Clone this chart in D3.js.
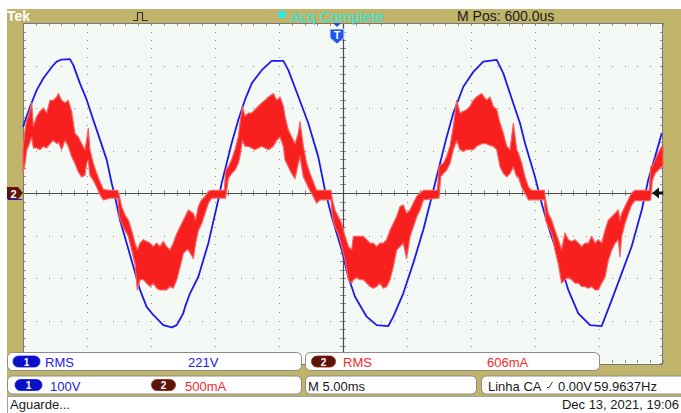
<!DOCTYPE html>
<html>
<head>
<meta charset="utf-8">
<script src="https://cdn.jsdelivr.net/npm/d3@7"></script>
<style>
  body { margin: 0; background: #fff; }
  svg { display: block; }
  text { font-family: "Liberation Sans", Arial, sans-serif; }
</style>
</head>
<body>
<svg id="scope"></svg>
<script>
const W = 681, H = 413;

// CH1 voltage (blue): time in ms from left edge, volts
const voltTime = [0.00,0.55,1.07,1.59,2.37,2.63,3.00,3.67,3.93,4.45,4.98,5.49,6.02,6.54,6.93,7.19,7.58,8.10,8.62,9.14,9.66,10.18,10.96,11.62,12.01,12.52,12.66,13.05,13.70,14.48,15.26,15.52,15.78,16.30,16.82,17.34,17.87,18.65,19.43,20.34,20.73,21.51,22.29,23.07,23.59,24.12,24.90,25.41,25.94,26.85,27.63,28.54,28.93,29.71,30.49,31.27,31.93,32.45,33.10,33.62,34.40,35.18,35.96,37.01,37.52,38.30,38.83,39.22,40.00,40.52,41.04,41.82,42.60,43.38,44.30,45.21,45.99,46.77,47.55,48.34,48.85,49.38,49.90];
const voltValue = [156,203,242,270,301,309,314,315,301,258,219,172,125,78,23,-9,-64,-118,-173,-228,-268,-287,-311,-316,-311,-283,-268,-236,-197,-118,-16,23,54,117,172,219,258,289,311,311,289,227,164,85,7,-56,-134,-197,-244,-291,-311,-313,-291,-236,-165,-87,-9,54,132,188,250,285,309,313,282,211,164,117,38,-24,-79,-150,-228,-283,-311,-313,-252,-189,-126,-40,31,85,140];

// CH2 current (red): noisy trace kept as its upper / lower envelope, mA
const currTime = [0.00,0.16,0.29,0.42,0.68,0.81,1.07,1.33,1.59,1.85,2.11,2.37,2.63,2.76,3.02,3.28,3.54,3.80,4.06,4.32,4.58,4.84,4.97,5.10,5.23,5.49,5.76,6.02,6.28,6.80,7.40,7.53,7.71,7.97,8.23,8.49,8.75,8.93,9.14,9.40,9.66,9.92,10.18,10.44,10.70,10.96,11.22,11.48,11.74,12.01,12.27,12.53,12.79,12.92,13.31,13.49,13.70,13.96,14.22,14.48,14.74,15.73,15.83,16.04,16.30,16.56,16.82,16.95,17.14,17.34,17.60,17.86,18.12,18.39,18.65,18.91,19.17,19.56,19.82,20.08,20.34,20.47,20.73,20.99,21.25,21.51,21.64,21.90,22.16,22.42,22.68,22.94,23.20,24.06,24.17,24.37,24.63,24.90,25.16,25.42,25.68,25.81,26.07,26.33,26.59,26.85,27.11,27.37,27.63,27.89,28.15,28.41,28.67,28.93,29.19,29.45,29.71,29.97,30.24,30.49,30.76,31.02,31.28,32.37,32.50,32.63,32.84,33.10,33.36,33.62,33.88,34.14,34.40,34.66,34.92,35.18,35.44,35.83,36.22,36.48,36.74,37.01,37.27,37.53,37.79,38.05,38.31,38.57,38.70,38.96,39.22,39.48,39.74,40.73,40.83,41.04,41.30,41.56,41.82,42.08,42.34,42.60,42.86,43.13,43.39,43.65,43.91,44.17,44.43,44.69,44.95,45.21,45.47,45.73,45.99,46.25,46.51,46.64,46.77,47.03,47.29,47.55,47.81,48.93,49.04,49.17,49.38,49.63,49.90,50.00];
const currHigh = [510,740,860,900,1060,780,900,960,1000,940,1090,1090,1130,1170,1090,1060,1090,960,700,660,580,510,620,760,510,350,230,130,40,30,30,-40,-160,-260,-320,-440,-590,-670,-590,-550,-570,-590,-630,-590,-630,-570,-630,-670,-590,-480,-400,-320,-240,-200,-240,-320,-160,-80,-40,20,30,30,270,310,390,510,660,820,1020,900,940,940,980,1020,1060,1090,1130,1170,1090,1130,1020,900,740,660,580,700,840,550,350,230,130,30,30,30,-80,-200,-280,-360,-510,-630,-670,-510,-510,-510,-510,-550,-590,-590,-630,-590,-590,-550,-440,-360,-280,-160,-140,-240,-200,-120,-40,0,30,30,310,330,350,430,550,780,1090,940,960,980,1020,1090,1130,1170,1090,1130,1020,980,820,700,550,510,820,510,470,350,190,70,30,30,-80,-240,-320,-440,-550,-670,-470,-550,-570,-550,-590,-630,-590,-590,-510,-590,-550,-590,-440,-320,-280,-240,-200,-320,-240,-160,-80,0,30,30,310,310,390,470,550,560];
const currLow = [230,350,510,550,660,530,530,510,550,530,580,620,580,600,510,620,550,430,350,250,190,210,350,390,210,150,70,-20,-80,-60,-60,-280,-360,-440,-510,-670,-830,-1140,-1020,-1020,-1060,-1100,-1060,-1120,-1140,-1140,-1140,-1100,-1120,-1020,-870,-710,-670,-670,-770,-590,-440,-360,-240,-120,-60,-60,-60,170,230,270,350,430,620,550,550,530,510,530,550,530,510,550,620,660,550,390,310,230,170,350,430,190,110,30,-40,-120,-80,-80,-280,-400,-480,-630,-790,-1020,-1060,-1020,-990,-1020,-1020,-1060,-1100,-1120,-1100,-1060,-1120,-1100,-1020,-870,-670,-630,-590,-770,-510,-400,-280,-200,-80,-60,-60,190,230,270,350,510,620,510,490,510,510,510,550,580,580,560,550,510,310,230,190,230,310,190,190,70,0,-80,-80,-80,-320,-400,-470,-670,-830,-1060,-1020,-990,-1020,-1060,-1060,-1100,-1100,-1120,-1100,-1140,-1140,-1060,-990,-790,-670,-590,-550,-750,-510,-360,-240,-140,-90,-90,-80,150,230,270,310,320];

// readouts
const tekLabel = 'Tek';
const acqStatus = 'Acq Complete';
const horizPos = 'M Pos: 600.0us';
const ch1Rms = ['RMS', '221V'];
const ch2Rms = ['RMS', '606mA'];
const ch1Scale = '100V';
const ch2Scale = '500mA';
const timeScale = 'M 5.00ms';
const trigInfo = ['Linha CA', '0.00V', '59.9637Hz'];
const footerLeft = 'Aguarde...';
const footerRight = 'Dec 13, 2021, 19:06';

const khaki = '#c0b46b';
const blue = '#1a1af0';
const red = '#f81f1f';

const svg = d3.select('#scope').attr('width', W).attr('height', H);

const x = d3.scaleLinear().domain([0, 50]).range([23, 663]);
const yV = d3.scaleLinear().domain([-400, 400]).range([363, 23]);
const yI = d3.scaleLinear().domain([-2000, 2000]).range([363, 23]);

svg.append('rect').attr('width', W).attr('height', H).attr('fill', '#fff');
svg.append('rect').attr('x', 7).attr('y', 9).attr('width', W - 7).attr('height', 387).attr('fill', khaki);

// screen
svg.append('rect').attr('x', 23).attr('y', 23).attr('width', 640).attr('height', 342)
  .attr('fill', '#f5f9f6');

const timeMajor = d3.range(0, 50.001, 5);
const timeMinor = d3.range(0, 50.001, 1);
const voltMajor = d3.range(-400, 400.001, 100);
const voltMinor = d3.range(-400, 400.001, 20);

const grid = svg.append('g').attr('fill', '#8e8e8e');
timeMajor.filter(t => t > 0 && t < 50 && t !== 25).forEach(t => {
  voltMinor.forEach(v => {
    grid.append('rect').attr('x', Math.round(x(t))).attr('y', Math.round(yV(v)))
      .attr('width', 1).attr('height', 1);
  });
});
voltMajor.filter(v => v > -400 && v < 400 && v !== 0).forEach(v => {
  timeMinor.forEach(t => {
    grid.append('rect').attr('x', Math.round(x(t))).attr('y', Math.round(yV(v)))
      .attr('width', 1).attr('height', 1);
  });
});

// edge and centre ticks
const ticks = svg.append('g').attr('stroke', '#8e8e8e').attr('stroke-width', 1);
timeMinor.forEach(t => {
  const px = Math.round(x(t)) + 0.5;
  ticks.append('line').attr('x1', px).attr('x2', px).attr('y1', 23).attr('y2', 26);
  ticks.append('line').attr('x1', px).attr('x2', px).attr('y1', 360).attr('y2', 363);
  ticks.append('line').attr('x1', px).attr('x2', px).attr('y1', yV(0) - 3).attr('y2', yV(0) + 3);
});
voltMinor.forEach(v => {
  const py = Math.round(yV(v)) + 0.5;
  ticks.append('line').attr('x1', 23).attr('x2', 26).attr('y1', py).attr('y2', py);
  ticks.append('line').attr('x1', 660).attr('x2', 663).attr('y1', py).attr('y2', py);
  ticks.append('line').attr('x1', x(25) - 3).attr('x2', x(25) + 3).attr('y1', py).attr('y2', py);
});

svg.append('line').attr('x1', 23).attr('x2', 663).attr('y1', Math.round(yV(0)) + 0.5).attr('y2', Math.round(yV(0)) + 0.5)
  .attr('stroke', '#4c4c4c').attr('stroke-width', 1.2);
svg.append('line').attr('x1', Math.round(x(25)) + 0.5).attr('x2', Math.round(x(25)) + 0.5).attr('y1', 23).attr('y2', 365)
  .attr('stroke', '#4c4c4c').attr('stroke-width', 1.2);

svg.append('rect').attr('x', 23.5).attr('y', 23.5).attr('width', 639).attr('height', 341)
  .attr('fill', 'none').attr('stroke', '#777');

// traces
const voltData = voltTime.map((t, i) => ({ t, v: voltValue[i] }));
const currData = currTime.map((t, i) => ({ t, hi: currHigh[i], lo: currLow[i] }));

svg.append('path').datum(voltData)
  .attr('fill', 'none').attr('stroke', blue).attr('stroke-width', 1.8).attr('stroke-linejoin', 'round')
  .attr('d', d3.line().x(d => x(d.t)).y(d => yV(d.v)));

svg.append('path').datum(currData)
  .attr('fill', red).attr('stroke', '#f86060').attr('stroke-width', 1.2).attr('stroke-linejoin', 'round')
  .attr('d', d3.area().x(d => x(d.t)).y0(d => yI(d.lo)).y1(d => yI(d.hi)));

// top bar
svg.append('text').attr('x', 7).attr('y', 21).attr('fill', '#fff').attr('font-weight', 'bold')
  .attr('font-size', 14).text(tekLabel);
svg.append('path').attr('d', 'M133,20.5H137.5V12.5H142.5V20.5H148')
  .attr('fill', 'none').attr('stroke', '#333').attr('stroke-width', 1.2);
svg.append('rect').attr('x', 278).attr('y', 11).attr('width', 8).attr('height', 7).attr('rx', 2.5)
  .attr('fill', '#30e4dc');
svg.append('text').attr('x', 290).attr('y', 21.5).attr('fill', '#30e4dc').attr('font-size', 15)
  .text(acqStatus);
svg.append('text').attr('x', 457).attr('y', 21).attr('fill', '#1a1a1a').attr('font-size', 14)
  .text(horizPos);

// trigger position marker
svg.append('path').attr('d', 'M333,23 L341,23 L337,27 Z').attr('fill', '#1e4fe0');
svg.append('path').attr('d', 'M330,29 H344 V38 L337,44 L330,38 Z')
  .attr('fill', '#1e55e8').attr('stroke', '#dfe8ff').attr('stroke-width', 1);
svg.append('text').attr('x', 337).attr('y', 39).attr('text-anchor', 'middle').attr('fill', '#fff')
  .attr('font-weight', 'bold').attr('font-size', 11).text('T');

// channel 2 ground marker and trigger level arrow
svg.append('path').attr('d', 'M8,199 H21 L23,200 H8 Z').attr('fill', '#1a1ad0');
svg.append('path').attr('d', 'M7,187 H18 L23,193 L18,199 H7 Z').attr('fill', '#5c1409');
svg.append('text').attr('x', 13.5).attr('y', 197.5).attr('text-anchor', 'middle').attr('fill', '#fff')
  .attr('font-weight', 'bold').attr('font-size', 11).text('2');
svg.append('path').attr('d', 'M652,193 L659,187.5 V191.5 H663 V194.5 H659 V198.5 Z').attr('fill', '#111');

// readout boxes
function box(x0, y0, w, h) {
  svg.append('rect').attr('x', x0 + 0.5).attr('y', y0 + 0.5).attr('width', w).attr('height', h)
    .attr('rx', 5).attr('fill', '#fff').attr('stroke', '#8a8a8a');
}
function badge(cx, cy, w, label, fill) {
  svg.append('rect').attr('x', cx - w / 2).attr('y', cy - 5.5).attr('width', w).attr('height', 11)
    .attr('rx', 5.5).attr('fill', fill).attr('stroke', d3.color(fill).brighter(1.2)).attr('stroke-width', 0.8);
  svg.append('text').attr('x', cx).attr('y', cy + 4).attr('text-anchor', 'middle').attr('fill', '#fff')
    .attr('font-weight', 'bold').attr('font-size', 10).text(label);
}
function label(x0, y0, s, fill) {
  svg.append('text').attr('x', x0).attr('y', y0).attr('fill', fill).attr('font-size', 13).text(s);
}

box(7, 352, 294, 18);
box(305, 352, 294, 18);
box(7, 375.5, 294, 18);
box(305, 375.5, 171, 18);
box(481, 375.5, 210, 18);

badge(26.5, 361.5, 27, '1', '#0c10c4');
label(45, 367, ch1Rms[0], '#2020f0');
label(188, 367, ch1Rms[1], '#2020f0');
badge(323.5, 361.5, 24, '2', '#5c1409');
label(343, 367, ch2Rms[0], '#f42a2a');
label(487, 367, ch2Rms[1], '#f42a2a');

badge(28.5, 385, 27, '1', '#0c10c4');
label(50, 390.5, ch1Scale, '#2020f0');
badge(163.5, 385, 24, '2', '#5c1409');
label(185, 390.5, ch2Scale, '#f42a2a');
label(308, 390.5, timeScale, '#1a1a1a');
label(488, 390.5, trigInfo[0], '#1a1a1a');
svg.append('path').attr('d', 'M547,387.5 H549 L552.5,382').attr('fill', 'none').attr('stroke', '#333').attr('stroke-width', 1);
label(558, 390.5, trigInfo[1], '#1a1a1a');
label(594, 390.5, trigInfo[2], '#1a1a1a');

// status line
svg.append('rect').attr('x', 7.5).attr('y', 396.5).attr('width', W).attr('height', 20)
  .attr('fill', '#fff').attr('stroke', '#a0a0a0');
label(10, 408.5, footerLeft, '#1a1a1a');
svg.append('text').attr('x', 679).attr('y', 408.5).attr('text-anchor', 'end').attr('fill', '#1a1a1a')
  .attr('font-size', 13).text(footerRight);
</script>
</body>
</html>
